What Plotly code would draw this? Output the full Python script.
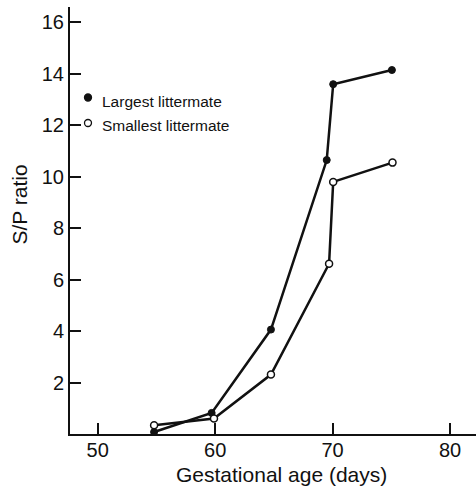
import plotly.graph_objects as go

# Gestational age (days) and S/P ratio for each littermate group
largest_age = [54.8, 59.7, 64.75, 69.5, 70.05, 75.05]
largest_sp = [0.08, 0.82, 4.06, 10.65, 13.6, 14.15]

smallest_age = [54.8, 59.9, 64.75, 69.7, 70.05, 75.1]
smallest_sp = [0.34, 0.6, 2.31, 6.62, 9.8, 10.55]

x_ticks = [50, 60, 70, 80]
y_ticks = [2, 4, 6, 8, 10, 12, 14, 16]

legend_labels = ["Largest littermate", "Smallest littermate"]

FONT = "Liberation Sans, Arial, Helvetica, sans-serif"
INK = "#111111"

fig = go.Figure()

fig.add_trace(go.Scatter(
    x=largest_age, y=largest_sp, mode="lines+markers", name=legend_labels[0],
    line=dict(color=INK, width=2.5),
    marker=dict(symbol="circle", size=7, color=INK, line=dict(color=INK, width=1)),
    showlegend=False,
))
fig.add_trace(go.Scatter(
    x=smallest_age, y=smallest_sp, mode="lines+markers", name=legend_labels[1],
    line=dict(color=INK, width=2.5),
    marker=dict(symbol="circle", size=7, color="white", line=dict(color=INK, width=1.5)),
    showlegend=False,
))

# Key: marker glyphs plus labels, placed in paper coordinates
W, H = 476, 490
L, R, T, B = 70, 0, 7, 56
pw, ph = W - L - R, H - T - B


def px_to_paper(px, py):
    return (px - L) / pw, 1 - (py - T) / ph


key_rows = [(97.5, 101), (123, 126)]
for label, fill, (my, ty_px) in zip(legend_labels, [INK, "white"], key_rows):
    x0, y0 = px_to_paper(84.5, my - 3.5)
    x1, y1 = px_to_paper(91.5, my + 3.5)
    fig.add_shape(type="circle", xref="paper", yref="paper",
                  x0=x0, x1=x1, y0=y1, y1=y0,
                  fillcolor=fill, line=dict(color=INK, width=1.3))
    tx, ty = px_to_paper(100, ty_px)
    fig.add_annotation(xref="paper", yref="paper", x=tx, y=ty, text=label,
                       showarrow=False, xanchor="left", yanchor="middle",
                       font=dict(family=FONT, size=15.5, color=INK))

# Axis titles
gx, gy = px_to_paper(281, 474)
fig.add_annotation(xref="paper", yref="paper", x=gx, y=gy, text="Gestational age (days)",
                   showarrow=False, xanchor="center", yanchor="middle",
                   font=dict(family=FONT, size=21, color=INK))
sx, sy = px_to_paper(19, 204.5)
fig.add_annotation(xref="paper", yref="paper", x=sx, y=sy, text="S/P ratio",
                   showarrow=False, textangle=-90, xanchor="center", yanchor="middle",
                   font=dict(family=FONT, size=21, color=INK))

fig.update_xaxes(
    range=[47.64, 82.21], tickvals=x_ticks, ticks="inside", ticklen=11, tickwidth=1.5,
    tickcolor=INK, showline=True, linecolor=INK, linewidth=2, showgrid=False,
    zeroline=False, tickfont=dict(family=FONT, size=20, color=INK),
    ticklabelstandoff=-3,
)
fig.update_yaxes(
    range=[0, 16.6], tickvals=y_ticks, ticks="inside", ticklen=11, tickwidth=1.5,
    tickcolor=INK, showline=True, linecolor=INK, linewidth=2, showgrid=False,
    zeroline=False, tickfont=dict(family=FONT, size=20, color=INK),
    ticklabelstandoff=0,
)

fig.update_layout(
    width=W, height=H, margin=dict(l=L, r=R, t=T, b=B),
    plot_bgcolor="white", paper_bgcolor="white", showlegend=False,
)

fig.write_html("out.html")
